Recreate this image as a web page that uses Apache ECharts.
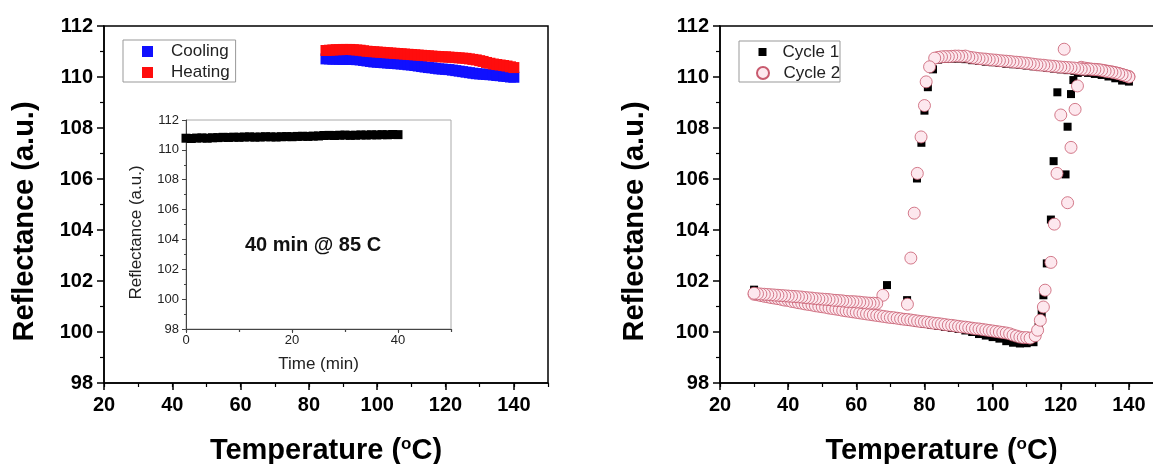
<!DOCTYPE html>
<html><head><meta charset="utf-8">
<script src="https://cdn.jsdelivr.net/npm/echarts@6/dist/echarts.min.js"></script>
<style>html,body{margin:0;padding:0;background:#fff}#c{width:1153px;height:464px}</style>
</head><body><div id="c"></div>
<script>
// ---------- Left main chart: Cooling / Heating ----------
var mainTemps = [85,86,87,88,89,90,91,92,93,94,95,96,97,98,99,100,101,102,103,104,105,106,107,108,109,110,111,112,113,114,115,116,117,118,119,120,121,122,123,124,125,126,127,128,129,130,131,132,133,134,135,136,137,138,139,140];
var coolingR = [110.71,110.71,110.70,110.70,110.70,110.69,110.69,110.69,110.69,110.68,110.67,110.65,110.63,110.61,110.59,110.58,110.57,110.56,110.55,110.54,110.53,110.52,110.51,110.50,110.48,110.47,110.45,110.43,110.41,110.39,110.37,110.36,110.34,110.32,110.31,110.30,110.29,110.27,110.25,110.23,110.21,110.19,110.17,110.15,110.13,110.12,110.11,110.10,110.09,110.08,110.06,110.05,110.03,110.02,110.00,109.99];
var heatingR = [111.04,111.05,111.06,111.07,111.07,111.08,111.08,111.08,111.07,111.06,111.05,111.03,111.01,111.00,110.99,110.98,110.97,110.96,110.95,110.94,110.93,110.92,110.91,110.90,110.89,110.88,110.87,110.86,110.85,110.84,110.83,110.82,110.81,110.80,110.79,110.79,110.78,110.77,110.76,110.75,110.74,110.73,110.71,110.69,110.67,110.64,110.61,110.57,110.54,110.51,110.49,110.47,110.45,110.43,110.40,110.37];

// ---------- Inset: 40 min @ 85 C ----------
var insetTime = [0,1,2,3,4,5,6,7,8,9,10,11,12,13,14,15,16,17,18,19,20,21,22,23,24,25,26,27,28,29,30,31,32,33,34,35,36,37,38,39,40];
var insetR = [110.78,110.76,110.79,110.80,110.78,110.81,110.82,110.84,110.83,110.85,110.84,110.86,110.87,110.85,110.86,110.88,110.87,110.86,110.88,110.89,110.88,110.90,110.91,110.90,110.92,110.93,110.96,110.97,110.96,110.98,110.99,110.97,110.98,111.00,110.99,111.01,111.00,111.02,111.01,111.03,111.02];

// ---------- Right chart: Cycle 2 (circles) ----------
var c2HeatLowT = [30,31,32,33,34,35,36,37,38,39,40,41,42,43,44,45,46,47,48,49,50,51,52,53,54,55,56,57,58,59,60,61,62,63,64,65,66,67,68,69,70,71,72,73,74,75,76,77,78,79,80,81,82,83,84,85,86,87,88,89,90,91,92,93,94,95,96,97,98,99,100,101,102,103,104,105,106,107,108,109,110,111];
var c2HeatLowR = [101.48,101.46,101.43,101.40,101.38,101.35,101.33,101.31,101.28,101.25,101.24,101.20,101.18,101.15,101.13,101.10,101.08,101.06,101.03,101.01,100.99,100.97,100.94,100.92,100.90,100.88,100.85,100.83,100.81,100.79,100.77,100.75,100.73,100.71,100.69,100.67,100.65,100.63,100.61,100.59,100.57,100.56,100.54,100.52,100.50,100.49,100.47,100.45,100.43,100.41,100.40,100.38,100.36,100.34,100.33,100.31,100.29,100.27,100.26,100.24,100.22,100.20,100.19,100.17,100.15,100.13,100.12,100.10,100.08,100.06,100.04,100.02,100.00,99.98,99.96,99.93,99.88,99.84,99.80,99.78,99.78,99.76];
var c2HeatJumpT = [112.5,113.2,114.0,114.9,115.4,117.1,118.1,118.9,120.0,121.0,122.0,123.0,124.2,124.9];
var c2HeatJumpR = [99.85,100.07,100.46,100.98,101.64,102.73,104.23,106.22,108.51,111.09,105.07,107.24,108.73,109.65];
var c2HeatHighT = [126,127,128,129,130,131,132,133,134,135,136,137,138,139,140];
var c2HeatHighR = [110.38,110.35,110.33,110.31,110.30,110.29,110.27,110.25,110.22,110.20,110.17,110.14,110.10,110.06,110.02];
var c2CoolHighT = [140,139,138,137,136,135,134,133,132,131,130,129,128,127,126,125,124,123,122,121,120,119,118,117,116,115,114,113,112,111,110,109,108,107,106,105,104,103,102,101,100,99,98,97,96,95,94,93,92,91,90,89,88,87,86,85,84,83];
var c2CoolHighR = [110.00,110.05,110.09,110.13,110.16,110.19,110.21,110.23,110.26,110.28,110.29,110.30,110.31,110.30,110.31,110.33,110.35,110.36,110.37,110.38,110.39,110.40,110.42,110.43,110.44,110.46,110.47,110.48,110.50,110.52,110.54,110.55,110.57,110.58,110.59,110.61,110.62,110.63,110.64,110.66,110.67,110.68,110.70,110.71,110.72,110.74,110.76,110.78,110.82,110.81,110.82,110.82,110.81,110.80,110.80,110.79,110.77,110.74];
var c2CoolDropT = [81.5,80.5,80.0,79.0,77.9,77.0,76.0,75.0,67.8];
var c2CoolDropR = [110.40,109.81,108.88,107.65,106.22,104.66,102.90,101.09,101.44];
var c2CoolLowT = [66,65,64,63,62,61,60,59,58,57,56,55,54,53,52,51,50,49,48,47,46,45,44,43,42,41,40,39,38,37,36,35,34,33,32,31,30];
var c2CoolLowR = [101.12,101.13,101.13,101.14,101.15,101.17,101.18,101.19,101.19,101.20,101.22,101.23,101.24,101.25,101.27,101.28,101.29,101.30,101.31,101.33,101.34,101.35,101.37,101.38,101.39,101.40,101.41,101.42,101.43,101.44,101.45,101.46,101.47,101.48,101.49,101.50,101.52];

// ---------- Right chart: Cycle 1 (squares) ----------
var c1HeatLowT = [30,32,34,36,38,40,42,44,46,48,50,52,54,56,58,60,62,64,66,68,70,72,74,76,78,80,82,84,86,88,90,92,94,96,98,100,102,104,106,108,110,112];
var c1HeatLowR = [101.50,101.45,101.40,101.34,101.29,101.24,101.19,101.14,101.09,101.04,100.99,100.94,100.89,100.84,100.79,100.74,100.70,100.65,100.60,100.56,100.52,100.48,100.44,100.40,100.36,100.32,100.28,100.24,100.20,100.16,100.12,100.06,100.00,99.92,99.86,99.80,99.74,99.64,99.58,99.55,99.56,99.60];
var c1HeatJumpT = [113.5,114.4,114.9,115.9,117.1,117.9,119.0,121.4,122.0,123.0,123.7];
var c1HeatJumpR = [100.20,100.72,101.44,102.69,104.41,106.70,109.40,106.18,108.05,109.33,109.88];
var c1HeatHighT = [125,127,129,131,133,135,137,139];
var c1HeatHighR = [110.16,110.20,110.20,110.18,110.14,110.08,110.00,109.88];
var c1CoolHighT = [140,138,136,134,132,130,128,126,124,122,120,118,116,114,112,110,108,106,104,102,100,98,96,94,92,90,88,86,84];
var c1CoolHighR = [109.82,109.86,109.95,110.02,110.08,110.12,110.16,110.20,110.24,110.27,110.30,110.33,110.36,110.39,110.42,110.45,110.48,110.50,110.52,110.55,110.58,110.60,110.63,110.66,110.70,110.72,110.72,110.71,110.68];
var c1CoolDropT = [82.5,81.0,80.0,79.1,77.8,74.9,69.0];
var c1CoolDropR = [110.30,109.60,108.68,107.42,106.02,101.25,101.84];
var c1CoolLowT = [66,64,62,60,58,56,54,52,50,48,46,44,42,40,38,36,34,32,30];
var c1CoolLowR = [101.10,101.12,101.14,101.16,101.18,101.20,101.22,101.25,101.27,101.29,101.32,101.35,101.37,101.39,101.42,101.44,101.47,101.52,101.66];

// ---------- Tick values ----------
var tempTicks = [20,40,60,80,100,120,140];
var timeTicks = [0,20,40];

var F = '"Liberation Sans", Arial, sans-serif';
function zip(t, r) { return t.map(function (v, i) { return [v, r[i]]; }); }
function zipAll(pairs) { var out = []; pairs.forEach(function (p) { out = out.concat(zip(p[0], p[1])); }); return out; }

var cycle2 = zipAll([[c2HeatLowT, c2HeatLowR], [c2HeatJumpT, c2HeatJumpR], [c2HeatHighT, c2HeatHighR], [c2CoolHighT, c2CoolHighR], [c2CoolDropT, c2CoolDropR], [c2CoolLowT, c2CoolLowR]]);
var cycle1 = zipAll([[c1HeatLowT, c1HeatLowR], [c1HeatJumpT, c1HeatJumpR], [c1HeatHighT, c1HeatHighR], [c1CoolHighT, c1CoolHighR], [c1CoolDropT, c1CoolDropR], [c1CoolLowT, c1CoolLowR]]);

var tempName = '{a|Temperature (}{s|o}{a|C)}';
var tempRich = {
  a: { fontSize: 29, fontWeight: 'bold', fontFamily: F, color: '#000', lineHeight: 30 },
  s: { fontSize: 17, fontWeight: 'bold', fontFamily: F, color: '#000', lineHeight: 17, verticalAlign: 'top' }
};

function mainX(g) {
  return {
    type: 'value', gridIndex: g, min: 20, max: 150, interval: 20, position: 'bottom',
    axisLine: { show: true, onZero: false, lineStyle: { color: '#000', width: 1.5 } },
    axisTick: { show: true, length: 7, customValues: tempTicks, lineStyle: { color: '#000', width: 1.5 } },
    axisLabel: { show: true, customValues: tempTicks, margin: 12, fontSize: 20, fontWeight: 'bold', color: '#000', fontFamily: F, lineHeight: 20 },
    splitLine: { show: false },
    name: tempName, nameLocation: 'middle', nameGap: 53,
    nameTextStyle: { rich: tempRich }
  };
}
function minorX(g, mn, mx, itv, len, col) {
  return {
    type: 'value', gridIndex: g, min: mn, max: mx, interval: itv, position: 'bottom',
    axisLine: { show: false, onZero: false },
    axisTick: { show: true, length: len, lineStyle: { color: col, width: 1.2 } },
    axisLabel: { show: false }, splitLine: { show: false }
  };
}
function mainY(g, gap) {
  return {
    type: 'value', gridIndex: g, min: 98, max: 112, interval: 2, position: 'left',
    axisLine: { show: true, onZero: false, lineStyle: { color: '#000', width: 1.5 } },
    axisTick: { show: true, length: 7, lineStyle: { color: '#000', width: 1.5 } },
    minorTick: { show: true, splitNumber: 2, length: 4, lineStyle: { color: '#000', width: 1.2 } },
    axisLabel: { show: true, margin: 11, fontSize: 20, fontWeight: 'bold', color: '#000', fontFamily: F },
    splitLine: { show: false }, minorSplitLine: { show: false },
    name: 'Reflectance (a.u.)', nameLocation: 'middle', nameGap: gap, nameRotate: 90,
    nameTextStyle: { fontSize: 29, fontWeight: 'bold', fontFamily: F, color: '#000', lineHeight: 30, padding: [0, 34, 0, 0] }
  };
}

var chart = echarts.init(document.getElementById('c'), null, { renderer: 'canvas' });
chart.setOption({
  animation: false,
  backgroundColor: '#fff',
  grid: [
    { left: 104, top: 26, width: 444, height: 357, outerBoundsMode: 'none', containLabel: false, show: true, borderColor: '#000', borderWidth: 1.5, backgroundColor: 'transparent' },
    { left: 186, top: 120, width: 265, height: 209, outerBoundsMode: 'none', containLabel: false, show: true, borderColor: '#aaa', borderWidth: 1, backgroundColor: 'transparent' },
    { left: 720, top: 26, width: 443, height: 357, outerBoundsMode: 'none', containLabel: false, show: true, borderColor: '#000', borderWidth: 1.5, backgroundColor: 'transparent' }
  ],
  xAxis: [
    mainX(0),
    minorX(0, 20, 150, 10, 4, '#000'),
    {
      type: 'value', gridIndex: 1, min: 0, max: 50, interval: 20, position: 'bottom',
      axisLine: { show: true, onZero: false, lineStyle: { color: '#444', width: 1 } },
      axisTick: { show: true, length: 4, customValues: timeTicks, lineStyle: { color: '#444', width: 1 } },
      axisLabel: { show: true, customValues: timeTicks, margin: 5, fontSize: 13, color: '#222', fontFamily: F, lineHeight: 13 },
      splitLine: { show: false },
      name: 'Time (min)', nameLocation: 'middle', nameGap: 27,
      nameTextStyle: { fontSize: 17, color: '#222', fontFamily: F, lineHeight: 17 }
    },
    minorX(1, 0, 50, 10, 3, '#444'),
    mainX(2),
    minorX(2, 20, 150, 10, 4, '#000')
  ],
  yAxis: [
    mainY(0, 64),
    {
      type: 'value', gridIndex: 1, min: 98, max: 112, interval: 2, position: 'left',
      axisLine: { show: true, onZero: false, lineStyle: { color: '#444', width: 1 } },
      axisTick: { show: true, length: 4, lineStyle: { color: '#444', width: 1 } },
      minorTick: { show: true, splitNumber: 2, length: 2, lineStyle: { color: '#444', width: 1 } },
      axisLabel: { show: true, margin: 7, fontSize: 13, color: '#222', fontFamily: F },
      splitLine: { show: false }, minorSplitLine: { show: false },
      name: 'Reflectance (a.u.)', nameLocation: 'middle', nameGap: 41, nameRotate: 90,
      nameTextStyle: { fontSize: 17, color: '#222', fontFamily: F, lineHeight: 17, padding: [0, 16, 0, 0] }
    },
    mainY(2, 70)
  ],
  legend: [
    {
      left: 123, top: 40, orient: 'vertical', data: ['Cooling', 'Heating'],
      padding: [3, 6, 1, 19], itemGap: 4, itemWidth: 11, itemHeight: 11,
      borderColor: '#999', borderWidth: 1, backgroundColor: '#fff',
      textStyle: { fontSize: 17, fontFamily: F, color: '#222', lineHeight: 17, padding: [0, 0, 0, 13] }
    },
    {
      left: 758.5, top: 43.5, orient: 'vertical', data: ['Cycle 1'],
      padding: 0, itemWidth: 8, itemHeight: 8,
      textStyle: { fontSize: 17, fontFamily: F, color: '#222', lineHeight: 17, padding: [0, 0, 0, 11] }
    },
    {
      left: 756, top: 64.5, orient: 'vertical', data: ['Cycle 2'],
      padding: 0, itemWidth: 12, itemHeight: 12,
      textStyle: { fontSize: 17, fontFamily: F, color: '#222', lineHeight: 17, padding: [0, 0, 0, 9.5] }
    }
  ],
  graphic: [
    { type: 'rect', z: 3, shape: { x: 739, y: 41, width: 101, height: 41 }, style: { fill: '#fff', stroke: '#999', lineWidth: 1 } },
    { type: 'text', z: 5, x: 313, y: 245, style: { text: '40 min @ 85 C', fontSize: 20, fontWeight: 'bold', fontFamily: F, fill: '#111', align: 'center', verticalAlign: 'middle' } }
  ],
  series: [
    { name: 'Cooling', type: 'scatter', xAxisIndex: 0, yAxisIndex: 0, symbol: 'rect', symbolSize: 11,
      itemStyle: { color: '#1010ff', opacity: 1 }, data: zip(mainTemps, coolingR) },
    { name: 'Heating', type: 'scatter', xAxisIndex: 0, yAxisIndex: 0, symbol: 'rect', symbolSize: 11,
      itemStyle: { color: '#ff0d0d', opacity: 1 }, data: zip(mainTemps, heatingR) },
    { name: 'Inset', type: 'scatter', xAxisIndex: 2, yAxisIndex: 1, symbol: 'rect', symbolSize: 9,
      itemStyle: { color: '#000', opacity: 1 }, data: zip(insetTime, insetR) },
    { name: 'Cycle 1', type: 'scatter', xAxisIndex: 4, yAxisIndex: 2, symbol: 'rect', symbolSize: 8,
      itemStyle: { color: '#000', opacity: 1 }, data: cycle1 },
    { name: 'Cycle 2', type: 'scatter', xAxisIndex: 4, yAxisIndex: 2, symbol: 'circle', symbolSize: 12,
      itemStyle: { color: '#fde8ee', borderColor: '#c85a6e', borderWidth: 0.8, opacity: 1 }, data: cycle2 }
  ]
});
</script>
</body></html>
